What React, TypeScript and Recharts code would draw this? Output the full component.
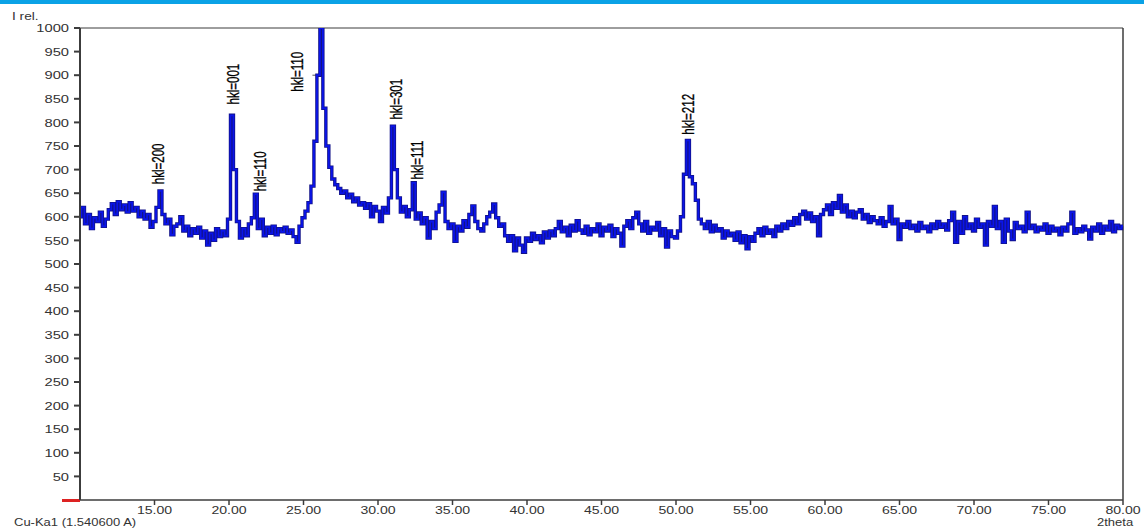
import React from "react";
import {
  LineChart,
  Line,
  XAxis,
  YAxis,
  ReferenceLine,
  ReferenceDot,
} from "recharts";

// scan grid: 10.00 .. 80.00 2theta, 0.2 deg step
const startAngle = 10;
const stepAngle = 0.2;

// relative intensity, 10 values per row (2 deg)
const intensity = [
  600, 620, 585, 605, 575, 598, 590, 610, 580, 595,
  615, 628, 605, 632, 615, 625, 610, 630, 612, 620,
  600, 612, 595, 605, 578, 590, 620, 655, 605, 585,
  595, 562, 580, 585, 600, 570, 580, 560, 575, 565,
  578, 555, 570, 540, 565, 550, 575, 558, 570, 560,
  595, 815, 700, 590, 555, 575, 560, 585, 598, 648,
  575, 595, 560, 578, 565, 580, 562, 575, 568, 578,
  565, 572, 558, 546, 580, 598, 612, 630, 665, 760,
  900, 1000, 830, 750, 705, 680, 668, 660, 650, 655,
  640, 648, 632, 640, 625, 630, 618, 628, 600, 622,
  612, 590, 620, 608, 640, 792, 700, 640, 610, 622,
  600, 615, 672, 595, 608, 585, 598, 555, 590, 575,
  610, 625, 652, 590, 575, 585, 548, 580, 570, 592,
  578, 605, 623, 590, 575, 570, 585, 600, 610, 627,
  598, 580, 585, 560, 548, 560, 528, 555, 540, 525,
  555, 548, 565, 552, 560, 545, 568, 555, 570, 560,
  575, 590, 568, 578, 560, 582, 570, 592, 572, 565,
  580, 562, 575, 568, 585, 560, 578, 570, 582, 558,
  575, 565, 538, 580, 592, 575, 598, 610, 585, 570,
  590, 565, 578, 572, 588, 560, 575, 536, 570, 558,
  555, 570, 600, 690, 762, 685, 670, 635, 595, 585,
  575, 590, 568, 582, 570, 575, 555, 570, 560, 565,
  550, 568, 545, 560, 532, 558, 548, 565, 575, 560,
  578, 565, 572, 558, 580, 570, 585, 575, 590, 582,
  598, 585, 605, 612, 595, 608, 590, 600, 560, 605,
  615, 625, 605, 630, 618, 645, 610, 625, 600, 612,
  598, 610, 615, 595, 605, 588, 600, 592, 585, 598,
  580, 590, 622, 585, 595, 552, 585, 578, 590, 575,
  582, 570, 588, 575, 580, 568, 585, 575, 590, 578,
  585, 572, 592, 610, 546, 590, 565, 600, 575, 585,
  570, 595, 578, 585, 540, 590, 580, 622, 575, 590,
  546, 595, 570, 552, 588, 575, 580, 568, 610, 575,
  582, 568, 578, 572, 585, 565, 580, 570, 576, 562,
  578, 570, 585, 610, 565, 575, 568, 580, 572, 553,
  578, 570, 585, 565, 580, 572, 590, 568, 582, 575,
  580,
];

const xTicks = [15, 20, 25, 30, 35, 40, 45, 50, 55, 60, 65, 70, 75, 80];
const yTicks = [50, 100, 150, 200, 250, 300, 350, 400, 450, 500, 550, 600, 650, 700, 750, 800, 850, 900, 950, 1000];

// peak labels: text, 2theta of label, intensity at the foot of the text
const peakLabels = ["hkl=200", "hkl=001", "hkl=110", "hkl=110", "hkl=301", "hkl=111", "hkl=212"];
const peakAngles = [15.27, 20.3, 22.1, 24.6, 31.2, 32.6, 50.8];
const peakBases = [669, 838, 654, 865, 806, 679, 774];

const data = intensity.map((v, i) => ({
  t: Math.round((startAngle + i * stepAngle) * 100) / 100,
  i: v,
}));

const font = "'Liberation Sans', Arial, sans-serif";
const axisColor = "#3c3c3c";
const wide = "scale(1.28,1)";

function XTick({ x, y, payload }: any) {
  return (
    <g transform={`translate(${x},${y})`}>
      <text transform={wide} textAnchor="middle" dy="0.66em" fontFamily={font} fontSize={11} fill="#333">
        {Number(payload.value).toFixed(2)}
      </text>
    </g>
  );
}

function YTick({ x, y, payload }: any) {
  return (
    <g transform={`translate(${x},${y})`}>
      <text transform={wide} textAnchor="end" dy="0.36em" fontFamily={font} fontSize={11.5} fill="#333">
        {payload.value}
      </text>
    </g>
  );
}

function PeakText({ cx, cy, text }: { cx?: number; cy?: number; text: string }) {
  if (cx == null || cy == null) return null;
  return (
    <g transform={`translate(${cx},${cy}) rotate(-90) scale(0.68,1)`}>
      <text
        x={0}
        y={0}
        dominantBaseline="central"
        textAnchor="start"
        fontFamily={font}
        fontSize={17}
        fill="#000"
        stroke="#000"
        strokeWidth={0.3}
      >
        {text}
      </text>
    </g>
  );
}

const noteStyle: React.CSSProperties = {
  position: "absolute",
  fontSize: 10,
  lineHeight: "11px",
  color: "#333",
  whiteSpace: "nowrap",
  transform: "scaleX(1.3)",
  transformOrigin: "left top",
};

export default function App() {
  return (
    <div
      style={{
        position: "absolute",
        left: 0,
        top: 0,
        width: 1144,
        height: 528,
        overflow: "hidden",
        background: "#fff",
        fontFamily: font,
      }}
    >
      <div style={{ position: "absolute", left: 0, top: 0, width: 1144, height: 4, background: "#0aa2e6" }} />
      <div style={{ ...noteStyle, left: 12, top: 11, fontSize: 10.5 }}>I rel.</div>
      <div style={{ position: "absolute", left: 62, top: 499, width: 18, height: 3, background: "#d22" }} />
      <LineChart
        width={1144}
        height={528}
        data={data}
        margin={{ top: 28, right: 21, left: 0, bottom: 0 }}
      >
        <XAxis
          dataKey="t"
          type="number"
          domain={[10, 80]}
          ticks={xTicks}
          tick={<XTick />}
          stroke={axisColor}
          strokeWidth={1.5}
          tickSize={5}
          height={28}
          interval={0}
        />
        <YAxis
          type="number"
          domain={[0, 1000]}
          ticks={yTicks}
          tick={<YTick />}
          stroke={axisColor}
          strokeWidth={2}
          tickSize={6}
          tickMargin={5}
          width={80}
          interval={0}
          allowDataOverflow
        />
        <ReferenceLine y={1000} stroke={axisColor} strokeWidth={1} />
        <ReferenceLine x={80} stroke={axisColor} strokeWidth={1.5} />
        <ReferenceLine
          segment={[
            { x: 25.6, y: 900 },
            { x: 26.0, y: 900 },
          ]}
          stroke="#555"
          strokeWidth={1}
        />
        <Line
          dataKey="i"
          type="step"
          stroke="#121288"
          strokeWidth={3.4}
          dot={false}
          isAnimationActive={false}
        />
        <Line
          dataKey="i"
          type="step"
          stroke="#0a14e8"
          strokeWidth={1.8}
          dot={false}
          isAnimationActive={false}
        />
        {peakLabels.map((label, k) => (
          <ReferenceDot
            key={k}
            x={peakAngles[k]}
            y={peakBases[k]}
            r={0}
            shape={(p: any) => <PeakText cx={p.cx} cy={p.cy} text={label} />}
          />
        ))}
      </LineChart>
      <div style={{ ...noteStyle, left: 14, top: 517 }}>Cu-Ka1 (1.540600 A)</div>
      <div style={{ ...noteStyle, left: 1097, top: 517 }}>2theta</div>
    </div>
  );
}
